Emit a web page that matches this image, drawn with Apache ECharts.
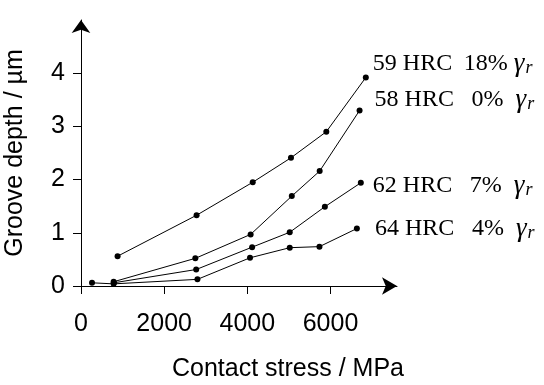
<!DOCTYPE html>
<html>
<head>
<meta charset="utf-8">
<script src="https://cdn.jsdelivr.net/npm/echarts@6/dist/echarts.min.js"></script>
<style>html,body{margin:0;padding:0;background:#fff}#c{width:544px;height:385px}</style>
</head>
<body>
<div id="c"></div>
<script>
// Data
const xTicks = [0, 2000, 4000, 6000];
const yTicks = [0, 1, 2, 3, 4];

const x59 = [880, 2780, 4130, 5050, 5900, 6850];
const y59 = [0.56, 1.33, 1.95, 2.41, 2.90, 3.92];
const x58 = [785, 2750, 4080, 5070, 5740, 6700];
const y58 = [0.08, 0.52, 0.97, 1.69, 2.16, 3.30];
const x62 = [790, 2770, 4115, 5020, 5865, 6730];
const y62 = [0.06, 0.31, 0.73, 1.01, 1.49, 1.94];
const x64 = [265, 785, 2800, 4065, 5020, 5735, 6635];
const y64 = [0.06, 0.04, 0.125, 0.53, 0.72, 0.74, 1.08];

const hardness = ['59 HRC', '58 HRC', '62 HRC', '64 HRC'];
const retained = ['18%', '0%', '7%', '4%'];

const chart = echarts.init(document.getElementById('c'), null, {renderer: 'canvas'});

const serif = '"Liberation Serif", "DejaVu Serif", serif';
const rich = {
  a: {fontFamily: serif, fontSize: 24, color: '#000', width: 89, align: 'left', lineHeight: 26},
  b: {fontFamily: serif, fontSize: 24, color: '#000', width: 48, align: 'right', lineHeight: 26},
  g: {fontFamily: serif, fontSize: 27, fontStyle: 'italic', color: '#000', padding: [0, 0, 0, 4], lineHeight: 26},
  s: {fontFamily: serif, fontSize: 18, fontStyle: 'italic', color: '#000', padding: [9, 0, 0, 1], lineHeight: 26}
};
const offsets = [[-1, -14], [7, -11], [4, 3], [10, 0]];

function pairs(xs, ys) { return xs.map((x, i) => [x, ys[i]]); }
const sets = [pairs(x59, y59), pairs(x58, y58), pairs(x62, y62), pairs(x64, y64)];

const series = sets.map((d, i) => ({
  type: 'line',
  data: d,
  symbol: 'circle',
  symbolSize: 6,
  showSymbol: true,
  itemStyle: {color: '#000'},
  lineStyle: {color: '#000', width: 1},
  animation: false,
  endLabel: {
    show: true,
    offset: offsets[i],
    formatter: () => '{a|' + hardness[i] + '}{b|' + retained[i] + '}{g|γ}{s|r}',
    rich: rich
  }
}));

const sans = '"Liberation Sans", Arial, sans-serif';

chart.setOption({
  backgroundColor: '#fff',
  animation: false,
  grid: {left: 81, top: 20, width: 316, height: 266, outerBoundsMode: 'none', containLabel: false},
  xAxis: {
    type: 'value',
    min: 0,
    max: 7600,
    name: 'Contact stress / MPa',
    nameLocation: 'middle',
    nameGap: 71,
    nameTextStyle: {fontFamily: sans, fontSize: 25, color: '#000', padding: [0, 0, 0, 98]},
    axisLine: {show: true, symbol: ['none', 'arrow'], symbolSize: [13, 15], lineStyle: {color: '#000', width: 1}},
    axisTick: {show: true, length: 8, customValues: xTicks, lineStyle: {color: '#000', width: 1}},
    axisLabel: {customValues: xTicks, margin: 26, fontFamily: sans, fontSize: 25, color: '#000', formatter: v => String(v)},
    splitLine: {show: false}
  },
  yAxis: {
    type: 'value',
    min: 0,
    max: 5,
    name: 'Groove depth / µm',
    nameLocation: 'middle',
    nameGap: 53,
    nameTextStyle: {fontFamily: sans, fontSize: 25, color: '#000'},
    axisLine: {show: true, symbol: ['none', 'arrow'], symbolSize: [14, 13], lineStyle: {color: '#000', width: 1}},
    axisTick: {show: true, length: 8, customValues: yTicks, lineStyle: {color: '#000', width: 1}},
    axisLabel: {customValues: yTicks, margin: 16, fontFamily: sans, fontSize: 25, color: '#000', formatter: v => String(v)},
    splitLine: {show: false}
  },
  series: series
});
</script>
</body>
</html>
